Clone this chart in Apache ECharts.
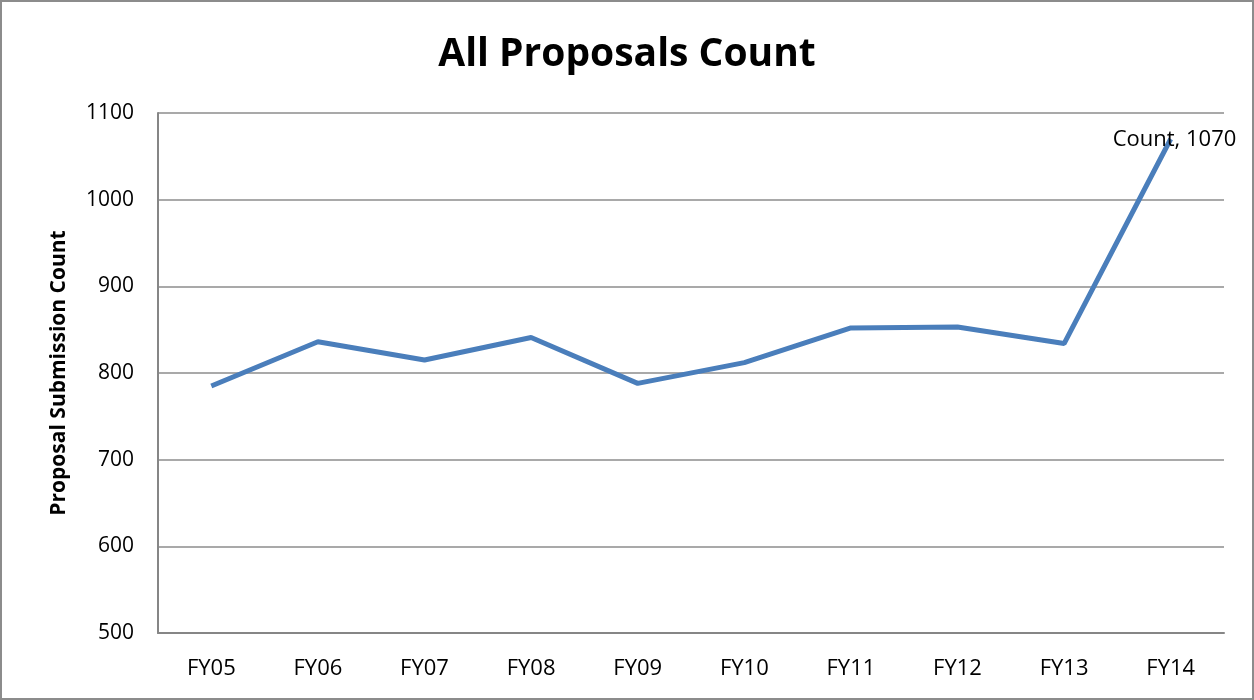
<!DOCTYPE html>
<html>
<head>
<meta charset="utf-8">
<script src="https://cdn.jsdelivr.net/npm/echarts@6/dist/echarts.min.js"></script>
<style>
  html, body { margin: 0; padding: 0; background: #fff; }
  #chart { width: 1254px; height: 700px; box-sizing: border-box; border: 2px solid #8c8c8c; }
</style>
</head>
<body>
<div id="chart"></div>
<script>
// data
const categories = ['FY05', 'FY06', 'FY07', 'FY08', 'FY09', 'FY10', 'FY11', 'FY12', 'FY13', 'FY14'];
const counts = [785, 836, 815, 841, 788, 812, 852, 853, 834, 1070];
const yTicks = [500, 600, 700, 800, 900, 1000, 1100];

const chart = echarts.init(document.getElementById('chart'));
const font = '"Open Sans", "Noto Sans", sans-serif';

chart.setOption({
  animation: false,
  title: {
    text: 'All Proposals Count',
    left: 'center',
    top: 28,
    textStyle: { fontFamily: font, fontSize: 39, fontWeight: 'bold', color: '#000' }
  },
  grid: { left: 156, right: 28, top: 111, bottom: 65 },
  xAxis: {
    type: 'category',
    data: categories,
    boundaryGap: true,
    axisLine: { lineStyle: { color: '#868686', width: 2 } },
    axisTick: { show: false },
    axisLabel: { fontFamily: font, fontSize: 22, color: '#000', margin: 25 }
  },
  yAxis: {
    type: 'value',
    min: yTicks[0],
    max: yTicks[yTicks.length - 1],
    interval: 100,
    name: 'Proposal Submission Count',
    nameLocation: 'middle',
    nameGap: 88,
    nameTextStyle: { fontFamily: font, fontSize: 21, fontWeight: 'bold', color: '#000' },
    axisLine: { show: true, lineStyle: { color: '#868686', width: 2 } },
    axisTick: { show: false },
    axisLabel: { fontFamily: font, fontSize: 21, color: '#000', margin: 24, formatter: v => String(v) },
    splitLine: { lineStyle: { color: '#8c8c8c', width: 1.5 } }
  },
  series: [{
    name: 'Count',
    type: 'line',
    data: counts,
    symbol: 'none',
    lineStyle: { color: '#4a7ebb', width: 5 },
    label: { show: false },
    endLabel: {
      show: true,
      formatter: p => p.seriesName + ', ' + p.value,
      fontFamily: font,
      fontSize: 22,
      color: '#000',
      offset: [-66, 1]
    }
  }]
});
</script>
</body>
</html>
